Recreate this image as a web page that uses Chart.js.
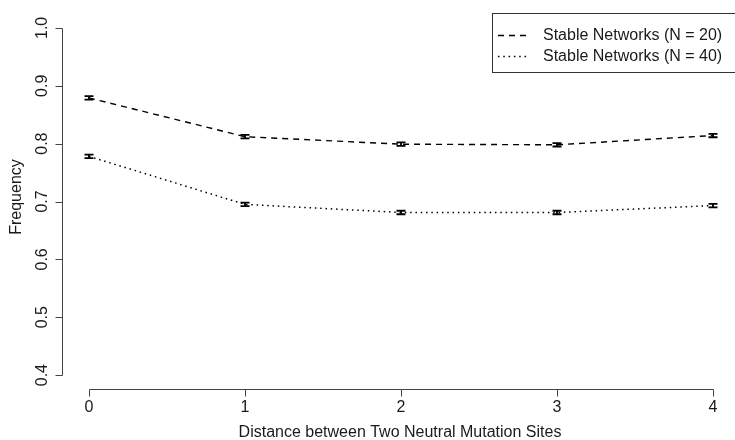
<!DOCTYPE html>
<html>
<head>
<meta charset="utf-8">
<script src="https://cdn.jsdelivr.net/npm/chart.js@4/dist/chart.umd.min.js"></script>
<style>
  html, body { margin: 0; padding: 0; background: #fff; }
  #wrap { width: 735px; height: 440px; }
</style>
</head>
<body>
<div id="wrap"><canvas id="c" width="735" height="440"></canvas></div>
<script>
// Distance between the two neutral mutation sites
const distances = [0, 1, 2, 3, 4];
// Mean frequency of stable networks per distance
const freqN20 = [0.879, 0.812, 0.799, 0.798, 0.814];
const freqN40 = [0.778, 0.695, 0.681, 0.681, 0.693];
// Half-width of the error bars
const errN20 = [0.003, 0.003, 0.003, 0.003, 0.003];
const errN40 = [0.003, 0.003, 0.003, 0.003, 0.003];
// Axis tick labels
const xTicks = [0, 1, 2, 3, 4];
const yTicks = [0.4, 0.5, 0.6, 0.7, 0.8, 0.9, 1.0];
const seriesNames = ['Stable Networks (N = 20)', 'Stable Networks (N = 40)'];

const FONT = '"Liberation Sans", Arial, sans-serif';
const dashN20 = [6, 5];
const dotN40 = [1.5, 3.8];

function toPoints(xs, ys) { return xs.map((x, i) => ({ x: x, y: ys[i] })); }

// Error bars with flat caps, drawn through the chart scales
const errorBars = {
  id: 'errorBars',
  afterDatasetsDraw(chart) {
    const ctx = chart.ctx, xs = chart.scales.x, ys = chart.scales.y;
    const sets = [[freqN20, errN20], [freqN40, errN40]];
    ctx.save();
    ctx.strokeStyle = '#000';
    ctx.lineWidth = 1.8;
    ctx.setLineDash([]);
    sets.forEach(([vals, errs]) => {
      vals.forEach((v, i) => {
        const px = xs.getPixelForValue(distances[i]);
        const top = ys.getPixelForValue(v + errs[i]);
        const bot = ys.getPixelForValue(v - errs[i]);
        ctx.beginPath();
        ctx.moveTo(px, top); ctx.lineTo(px, bot);
        ctx.moveTo(px - 4.5, top); ctx.lineTo(px + 4.5, top);
        ctx.moveTo(px - 4.5, bot); ctx.lineTo(px + 4.5, bot);
        ctx.stroke();
      });
    });
    ctx.restore();
  }
};

// Open axes, tick labels, titles and legend box
const frame = {
  id: 'frame',
  afterDraw(chart) {
    const ctx = chart.ctx, xs = chart.scales.x, ys = chart.scales.y;
    const area = chart.chartArea;
    ctx.save();
    ctx.strokeStyle = '#444';
    ctx.lineWidth = 1;
    ctx.setLineDash([]);
    ctx.fillStyle = '#1a1a1a';

    // y axis
    const ax = Math.round(area.left) + 0.5;
    const y0 = ys.getPixelForValue(yTicks[0]);
    const y1 = ys.getPixelForValue(yTicks[yTicks.length - 1]);
    ctx.beginPath();
    ctx.moveTo(ax, Math.round(y0) + 0.5); ctx.lineTo(ax, Math.round(y1) + 0.5);
    yTicks.forEach(t => {
      const py = Math.round(ys.getPixelForValue(t)) + 0.5;
      ctx.moveTo(ax, py); ctx.lineTo(ax - 7, py);
    });
    ctx.stroke();
    ctx.font = '16px ' + FONT;
    ctx.textAlign = 'center';
    ctx.textBaseline = 'middle';
    yTicks.forEach(t => {
      const py = ys.getPixelForValue(t);
      ctx.save();
      ctx.translate(ax - 20, py);
      ctx.rotate(-Math.PI / 2);
      ctx.fillText(t.toFixed(1), 0, 0);
      ctx.restore();
    });

    // x axis
    const ay = Math.round(area.bottom) + 0.5;
    const x0 = xs.getPixelForValue(xTicks[0]);
    const x1 = xs.getPixelForValue(xTicks[xTicks.length - 1]);
    ctx.beginPath();
    ctx.moveTo(Math.round(x0) + 0.5, ay); ctx.lineTo(Math.round(x1) + 0.5, ay);
    xTicks.forEach(t => {
      const px = Math.round(xs.getPixelForValue(t)) + 0.5;
      ctx.moveTo(px, ay); ctx.lineTo(px, ay + 7);
    });
    ctx.stroke();
    xTicks.forEach(t => {
      ctx.fillText(String(t), xs.getPixelForValue(t), ay + 18);
    });

    // axis titles
    ctx.fillText('Distance between Two Neutral Mutation Sites', 400, 433);
    ctx.save();
    ctx.translate(17, 197);
    ctx.rotate(-Math.PI / 2);
    ctx.fillText('Frequency', 0, 0);
    ctx.restore();

    // legend
    ctx.strokeStyle = '#333';
    ctx.strokeRect(492.5, 13.5, 250, 59);
    ctx.textAlign = 'left';
    const rows = [[35, dashN20], [56, dotN40]];
    rows.forEach(([ry, dash], i) => {
      ctx.save();
      ctx.strokeStyle = '#000';
      ctx.lineWidth = 1.4;
      ctx.setLineDash(dash);
      ctx.beginPath();
      ctx.moveTo(498, ry + 0.5); ctx.lineTo(527, ry + 0.5);
      ctx.stroke();
      ctx.restore();
      ctx.fillText(seriesNames[i], 543, ry + 1);
    });
    ctx.restore();
  }
};

new Chart(document.getElementById('c'), {
  type: 'line',
  data: {
    datasets: [
      {
        label: seriesNames[0],
        data: toPoints(distances, freqN20),
        borderColor: '#000',
        borderWidth: 1.4,
        borderDash: dashN20,
        pointRadius: 0,
        fill: false,
        tension: 0
      },
      {
        label: seriesNames[1],
        data: toPoints(distances, freqN40),
        borderColor: '#000',
        borderWidth: 1.5,
        borderDash: dotN40,
        pointRadius: 0,
        fill: false,
        tension: 0
      }
    ]
  },
  options: {
    responsive: false,
    animation: false,
    events: [],
    layout: { padding: { left: 62, right: 0, top: 14, bottom: 51 } },
    plugins: { legend: { display: false }, tooltip: { enabled: false } },
    scales: {
      x: { type: 'linear', display: false, min: -0.173, max: 4.141 },
      y: { type: 'linear', display: false, min: 0.376, max: 1.024 }
    }
  },
  plugins: [errorBars, frame]
});
</script>
</body>
</html>
